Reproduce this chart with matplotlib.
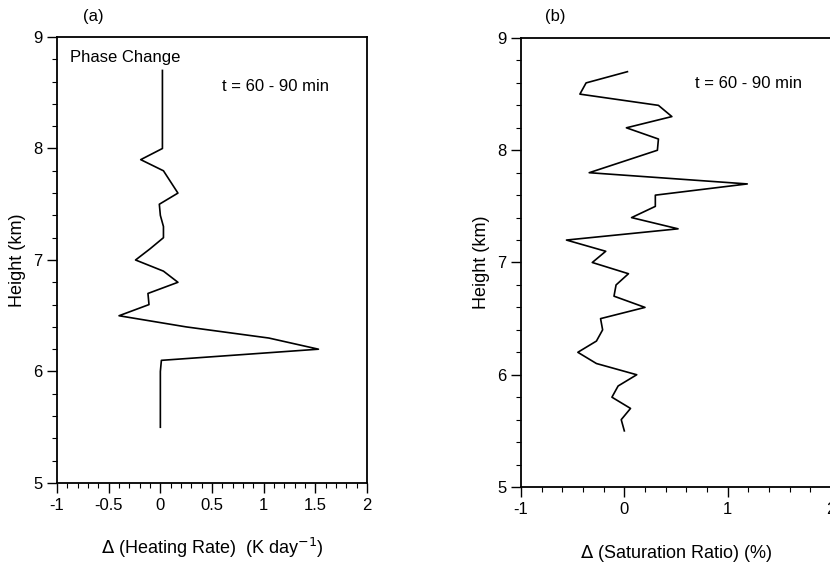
"""
Phase-change heating rate and saturation ratio differences, t = 60-90 min.
Two side-by-side vertical profiles, (a) and (b).
"""

import matplotlib
matplotlib.use('Agg')
import matplotlib.pyplot as plt
from matplotlib.ticker import MultipleLocator

plt.rcParams['font.family'] = ['Liberation Sans', 'DejaVu Sans']

# (a) change in heating rate from phase change (K/day) vs height (km)
heating_height = [5.5, 5.6, 5.7, 5.8, 5.9, 6.0, 6.1, 6.2, 6.3, 6.4, 6.5, 6.6,
                  6.7, 6.8, 6.9, 7.0, 7.1, 7.2, 7.3, 7.4, 7.5, 7.6, 7.7, 7.8,
                  7.9, 8.0, 8.1, 8.2, 8.3, 8.4, 8.5, 8.6, 8.7]
heating_delta = [0.0, 0.0, 0.0, 0.0, 0.0, 0.0, 0.01, 1.53, 1.05, 0.25, -0.40, -0.11,
                 -0.12, 0.17, 0.03, -0.24, -0.10, 0.03, 0.03, 0.00, -0.01, 0.17, 0.10, 0.03,
                 -0.19, 0.02, 0.02, 0.02, 0.02, 0.02, 0.02, 0.02, 0.02]

# (b) change in saturation ratio (%) vs height (km)
sat_height = [5.5, 5.6, 5.7, 5.8, 5.9, 6.0, 6.1, 6.2, 6.3, 6.4, 6.5, 6.6,
              6.7, 6.8, 6.9, 7.0, 7.1, 7.2, 7.3, 7.4, 7.5, 7.6, 7.7, 7.8,
              7.9, 8.0, 8.1, 8.2, 8.3, 8.4, 8.5, 8.6, 8.7]
sat_delta = [0.00, -0.03, 0.06, -0.12, -0.06, 0.12, -0.27, -0.45, -0.27, -0.21, -0.23, 0.20,
             -0.10, -0.08, 0.04, -0.31, -0.18, -0.56, 0.52, 0.07, 0.30, 0.30, 1.19, -0.34,
             -0.01, 0.32, 0.33, 0.02, 0.46, 0.33, -0.43, -0.37, 0.03]

period_label = 't = 60 - 90 min'


def _style(ax, x_major, x_minor):
    ax.set_xlim(-1, 2)
    ax.set_ylim(5, 9)
    ax.xaxis.set_major_locator(MultipleLocator(x_major))
    ax.xaxis.set_minor_locator(MultipleLocator(x_minor))
    ax.yaxis.set_major_locator(MultipleLocator(1))
    ax.yaxis.set_minor_locator(MultipleLocator(0.2))
    ax.xaxis.set_major_formatter(plt.FuncFormatter(lambda v, p: f'{v:g}'))
    ax.tick_params(which='major', direction='out', length=7, width=1.0,
                   labelsize=12, top=False, right=False)
    ax.tick_params(which='minor', direction='out', length=3.5, width=0.8,
                   top=False, right=False)
    for sp in ax.spines.values():
        sp.set_linewidth(1.3)
    ax.set_ylabel('Height (km)', fontsize=13, labelpad=5)


fig = plt.figure(figsize=(8.3, 5.63), dpi=100)

ax_a = fig.add_axes([0.0687, 0.1421, 0.3735, 0.7922])
ax_a.plot(heating_delta, heating_height, color='black', lw=1.2)
_style(ax_a, 0.5, 0.1)
ax_a.set_xlabel(r'$\Delta$ (Heating Rate)  (K day$^{-1}$)', fontsize=13, labelpad=17)
ax_a.text(0.116, 1.045, '(a)', transform=ax_a.transAxes, fontsize=12,
          ha='center', va='center')
ax_a.text(0.042, 0.955, 'Phase Change', transform=ax_a.transAxes, fontsize=12,
          ha='left', va='center')
ax_a.text(0.532, 0.89, period_label, transform=ax_a.transAxes, fontsize=12,
          ha='left', va='center')

ax_b = fig.add_axes([0.6277, 0.135, 0.3735, 0.7975])
ax_b.plot(sat_delta, sat_height, color='black', lw=1.2)
_style(ax_b, 1, 0.2)
ax_b.spines['right'].set_visible(False)
ax_b.set_xlabel(r'$\Delta$ (Saturation Ratio) (%)', fontsize=13, labelpad=19)
ax_b.text(0.11, 1.047, '(b)', transform=ax_b.transAxes, fontsize=12,
          ha='center', va='center')
ax_b.text(0.56, 0.898, period_label, transform=ax_b.transAxes, fontsize=12,
          ha='left', va='center')

fig.savefig('out.png', dpi=100)
plt.close(fig)
